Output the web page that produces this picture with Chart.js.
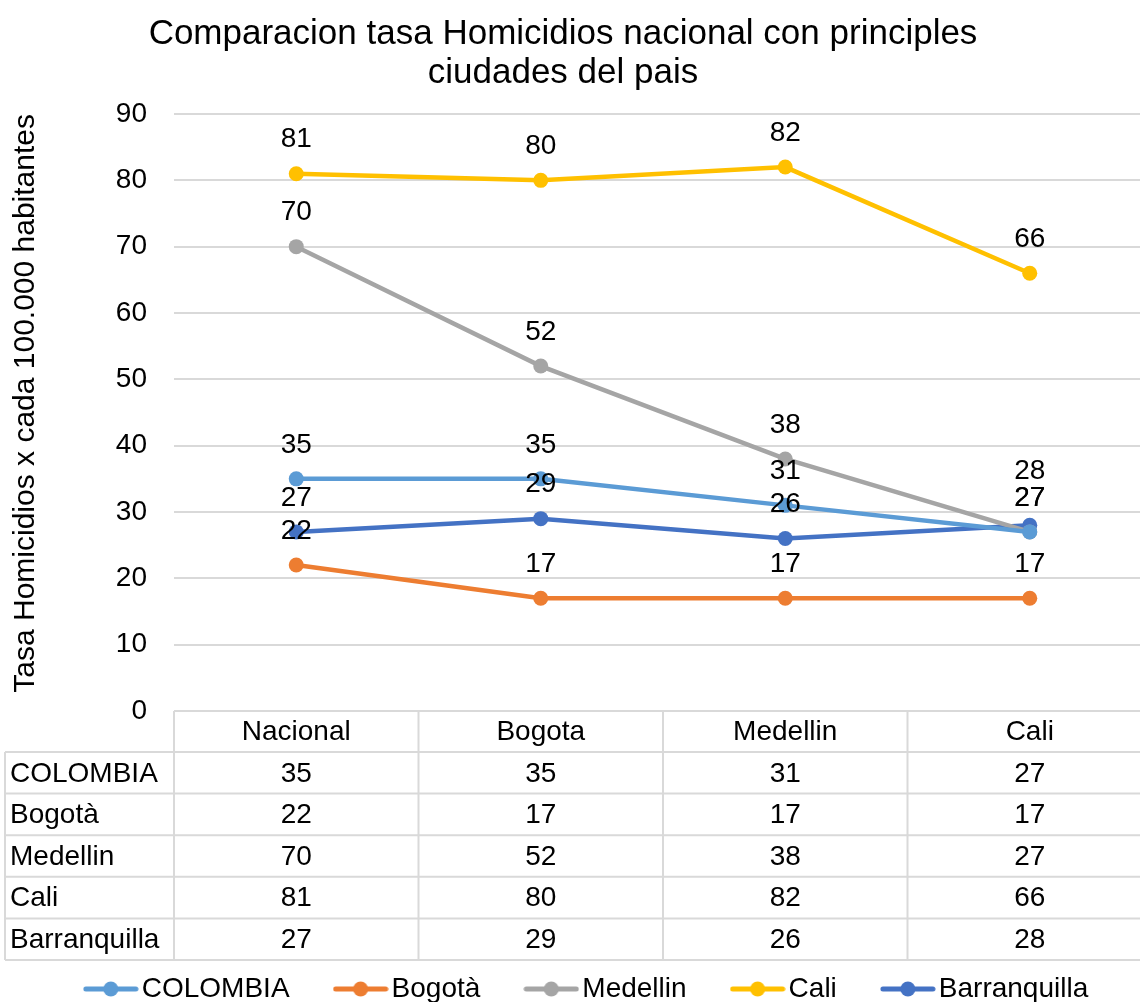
<!DOCTYPE html>
<html>
<head>
<meta charset="utf-8">
<script src="https://cdn.jsdelivr.net/npm/chart.js@4/dist/chart.umd.min.js"></script>
<style>
  html, body { margin: 0; padding: 0; background: #fff; overflow: hidden; }
</style>
</head>
<body>
<canvas id="chart" width="1160" height="1013"></canvas>
<script>
// categories and series
var categories = ['Nacional', 'Bogota', 'Medellin', 'Cali'];
var colombia = [35, 35, 31, 27];
var bogota = [22, 17, 17, 17];
var medellin = [70, 52, 38, 27];
var cali = [81, 80, 82, 66];
var barranquilla = [27, 29, 26, 28];
var seriesNames = ['COLOMBIA', 'Bogotà', 'Medellin', 'Cali', 'Barranquilla'];
var seriesColors = ['#5B9BD5', '#ED7D31', '#A5A5A5', '#FFC000', '#4472C4'];
var yMin = 0, yMax = 90, yStep = 10;

var FONT = "'Liberation Sans', Arial, sans-serif";
var titleLines = ['Comparacion tasa Homicidios nacional con principles', 'ciudades del pais'];

// legend marker: short line with a dot, like excel
function legendIcon(color) {
  var c = document.createElement('canvas');
  c.width = 56; c.height = 18;
  var g = c.getContext('2d');
  g.strokeStyle = color;
  g.lineWidth = 5;
  g.lineCap = 'round';
  g.beginPath(); g.moveTo(3, 9); g.lineTo(53, 9); g.stroke();
  g.fillStyle = color;
  g.beginPath(); g.arc(28, 9, 7.5, 0, Math.PI * 2); g.fill();
  return c;
}

var allSeries = [colombia, bogota, medellin, cali, barranquilla];
var datasets = allSeries.map(function(vals, i) {
  return {
    label: seriesNames[i],
    data: vals,
    borderColor: seriesColors[i],
    backgroundColor: seriesColors[i],
    borderWidth: 4.5,
    pointRadius: 7.5,
    pointHoverRadius: 7.5,
    pointBorderWidth: 0,
    pointStyle: 'circle',
    tension: 0
  };
});

// title, value labels and the data table under the plot
var extras = {
  id: 'extras',
  afterDatasetsDraw: function(chart) {
    var ctx = chart.ctx;
    ctx.save();
    ctx.font = '28px ' + FONT;
    ctx.fillStyle = '#000';
    ctx.textAlign = 'center';
    ctx.textBaseline = 'middle';
    var placed = [];
    chart.data.datasets.forEach(function(ds, di) {
      var meta = chart.getDatasetMeta(di);
      meta.data.forEach(function(pt, i) {
        var txt = String(ds.data[i]);
        var ly = pt.y - 34;
        placed.forEach(function(p) {
          if (p.i === i && p.txt !== txt && Math.abs(p.y - ly) < 26) ly = p.y - 27;
        });
        placed.push({ i: i, y: ly, txt: txt });
        ctx.fillText(txt, pt.x, ly);
      });
    });
    ctx.restore();
  },
  afterDraw: function(chart) {
    var ctx = chart.ctx;
    var xs = chart.scales.x;
    var area = chart.chartArea;
    ctx.save();
    // title
    ctx.font = '35px ' + FONT;
    ctx.fillStyle = '#000';
    ctx.textAlign = 'center';
    ctx.textBaseline = 'middle';
    ctx.fillText(titleLines[0], 563, 34);
    ctx.fillText(titleLines[1], 563, 73);

    // table
    var band = (xs.right - xs.left) / categories.length;
    var top = area.bottom;
    var headerH = 41;
    var rowH = 41.6;
    var tableLeft = 5;
    var rows = chart.data.datasets.length;
    var bottom = top + headerH + rows * rowH;
    ctx.strokeStyle = '#d9d9d9';
    ctx.lineWidth = 2;
    ctx.beginPath();
    ctx.moveTo(xs.left, top); ctx.lineTo(xs.right, top);
    for (var r = 0; r <= rows; r++) {
      var yy = top + headerH + r * rowH;
      ctx.moveTo(tableLeft, yy); ctx.lineTo(xs.right, yy);
    }
    for (var c = 0; c <= categories.length; c++) {
      var xx = xs.left + c * band;
      ctx.moveTo(xx, top); ctx.lineTo(xx, bottom);
    }
    ctx.moveTo(tableLeft, top + headerH); ctx.lineTo(tableLeft, bottom);
    ctx.stroke();

    ctx.font = '28px ' + FONT;
    ctx.fillStyle = '#000';
    ctx.textBaseline = 'middle';
    ctx.textAlign = 'center';
    categories.forEach(function(cat, i) {
      ctx.fillText(cat, xs.getPixelForValue(i), top + headerH / 2 + 1);
    });
    chart.data.datasets.forEach(function(ds, di) {
      var cy = top + headerH + di * rowH + rowH / 2 + 1;
      ctx.textAlign = 'left';
      ctx.fillText(ds.label, tableLeft + 5, cy);
      ctx.textAlign = 'center';
      ds.data.forEach(function(v, i) {
        ctx.fillText(String(v), xs.getPixelForValue(i), cy);
      });
    });
    ctx.restore();
  }
};

Chart.defaults.font.family = FONT;
Chart.defaults.color = '#000';

new Chart(document.getElementById('chart'), {
  type: 'line',
  data: { labels: categories, datasets: datasets },
  options: {
    responsive: false,
    animation: false,
    devicePixelRatio: 1,
    layout: { padding: { top: 114, right: 8, left: 30, bottom: 0 } },
    plugins: {
      title: { display: false },
      tooltip: { enabled: false },
      legend: {
        position: 'bottom',
        labels: {
          usePointStyle: true,
          pointStyleWidth: 34,
          font: { size: 28 },
          color: '#000',
          padding: 54,
          generateLabels: function(chart) {
            return chart.data.datasets.map(function(ds, i) {
              return {
                text: ds.label,
                pointStyle: legendIcon(ds.borderColor),
                fillStyle: ds.borderColor,
                strokeStyle: ds.borderColor,
                lineWidth: 0,
                datasetIndex: i,
                hidden: false
              };
            });
          }
        }
      }
    },
    scales: {
      x: {
        offset: true,
        grid: { display: false },
        border: { display: false },
        ticks: { display: false },
        afterFit: function(scale) { scale.height = 210; }
      },
      y: {
        min: yMin,
        max: yMax,
        ticks: { stepSize: yStep, font: { size: 28 }, color: '#000', padding: 27 },
        grid: { color: '#d9d9d9', lineWidth: 2, drawTicks: false },
        border: { display: false },
        title: {
          display: true,
          align: 'end',
          text: 'Tasa Homicidios x cada 100.000 habitantes',
          font: { size: 30 },
          color: '#000',
          padding: { top: -22, bottom: 0 }
        },
        afterFit: function(scale) { scale.width = 144; }
      }
    }
  },
  plugins: [extras]
});
</script>
</body>
</html>
